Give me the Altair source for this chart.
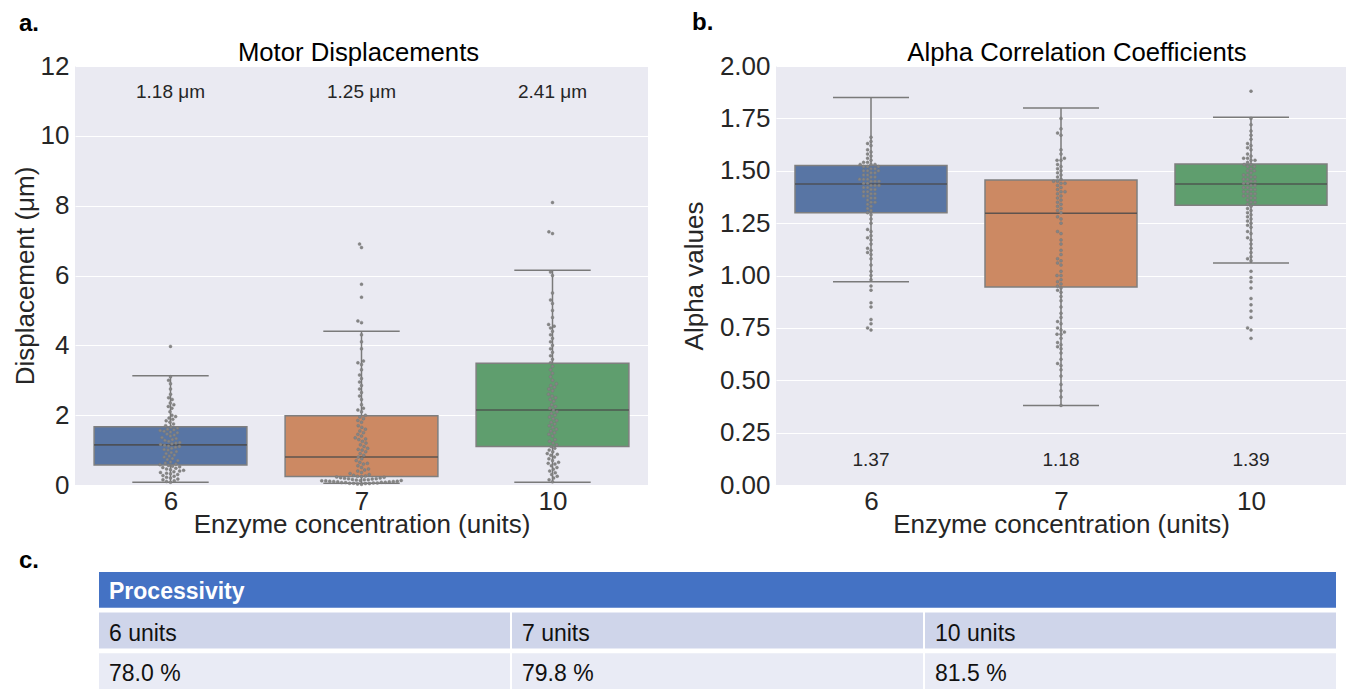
import altair as alt
import numpy as np
import pandas as pd

FONT = "Liberation Sans"
TXT = "#262626"
BG = "#EAEAF2"

# ---------------- data ----------------
groups = ["6", "7", "10"]
box_colors = ["#5875A4", "#CC8963", "#5F9E6E"]

# Panel a: motor displacements (um)
disp_low = [0.08, 0.05, 0.08]
disp_q1 = [0.57, 0.24, 1.10]
disp_med = [1.15, 0.80, 2.15]
disp_q3 = [1.67, 1.98, 3.49]
disp_high = [3.13, 4.40, 6.15]
disp_means = ["1.18 μm", "1.25 μm", "2.41 μm"]

disp_6 = [0.08, 0.1, 0.12, 0.15, 0.17, 0.2, 0.22, 0.25, 0.27, 0.3, 0.32, 0.34, 0.36, 0.38,
          0.4, 0.42, 0.44, 0.46, 0.48, 0.5, 0.52, 0.54, 0.56, 0.58, 0.6, 0.63, 0.66, 0.7,
          0.73, 0.76, 0.8, 0.83, 0.86, 0.9, 0.93, 0.96, 1.0, 1.02, 1.05, 1.08, 1.1, 1.12,
          1.14, 1.16, 1.18, 1.2, 1.22, 1.25, 1.28, 1.3, 1.33, 1.36, 1.4, 1.43, 1.46, 1.5,
          1.52, 1.54, 1.56, 1.58, 1.6, 1.63, 1.66, 1.7, 1.75, 1.8, 1.84, 1.88, 1.92, 1.96,
          2.0, 2.1, 2.2, 2.25, 2.3, 2.35, 2.45, 2.5, 2.6, 2.75, 2.9, 3.0, 3.1, 3.97]
disp_7 = [0.02, 0.03, 0.04, 0.04, 0.05, 0.05, 0.06, 0.06, 0.07, 0.07, 0.08, 0.08, 0.09,
          0.09, 0.1, 0.1, 0.11, 0.11, 0.12, 0.12, 0.13, 0.13, 0.14, 0.15, 0.15, 0.16, 0.17,
          0.18, 0.18, 0.19, 0.2, 0.21, 0.22, 0.23, 0.24, 0.25, 0.26, 0.28, 0.3, 0.33, 0.36,
          0.4, 0.43, 0.46, 0.5, 0.55, 0.6, 0.62, 0.65, 0.7, 0.75, 0.8, 0.85, 0.9, 0.95, 1.0,
          1.02, 1.05, 1.1, 1.15, 1.2, 1.25, 1.3, 1.32, 1.35, 1.4, 1.45, 1.5, 1.55, 1.6,
          1.65, 1.7, 1.8, 1.85, 1.9, 1.95, 2.0, 2.1, 2.15, 2.2, 2.3, 2.45, 2.55, 2.65, 2.75,
          2.85, 2.95, 3.05, 3.15, 3.3, 3.45, 3.5, 3.55, 3.9, 4.1, 4.3, 4.65, 4.7, 5.38, 5.75,
          6.8, 6.9]
disp_10 = [0.09, 0.15, 0.2, 0.25, 0.3, 0.35, 0.4, 0.45, 0.5, 0.55, 0.6, 0.62, 0.65, 0.7,
           0.75, 0.8, 0.85, 0.88, 0.9, 0.95, 1.0, 1.05, 1.1, 1.15, 1.2, 1.25, 1.3, 1.4, 1.45,
           1.5, 1.55, 1.6, 1.65, 1.7, 1.75, 1.8, 1.85, 1.9, 1.95, 2.0, 2.05, 2.1, 2.15, 2.2,
           2.25, 2.3, 2.4, 2.45, 2.5, 2.55, 2.6, 2.7, 2.75, 2.8, 2.85, 2.9, 3.0, 3.1, 3.2,
           3.3, 3.4, 3.5, 3.6, 3.7, 3.8, 3.9, 4.0, 4.1, 4.2, 4.3, 4.4, 4.5, 4.55, 4.6, 4.8,
           5.0, 5.2, 5.3, 5.5, 6.0, 6.1, 7.2, 7.25, 8.09]

# Panel b: alpha correlation coefficients
alpha_low = [0.97, 0.38, 1.06]
alpha_q1 = [1.30, 0.945, 1.335]
alpha_med = [1.437, 1.297, 1.437]
alpha_q3 = [1.525, 1.456, 1.532]
alpha_high = [1.85, 1.80, 1.755]
alpha_means = ["1.37", "1.18", "1.39"]

alpha_6 = [0.74, 0.75, 0.77, 0.79, 0.85, 0.87, 0.93, 0.95, 0.98, 1.00, 1.02, 1.05, 1.08,
           1.10, 1.11, 1.12, 1.13, 1.15, 1.17, 1.18, 1.19, 1.21, 1.22, 1.25, 1.27, 1.29,
           1.30, 1.31, 1.32, 1.33, 1.34, 1.35, 1.35, 1.36, 1.37, 1.37, 1.38, 1.38, 1.39,
           1.39, 1.40, 1.40, 1.41, 1.41, 1.42, 1.42, 1.43, 1.43, 1.43, 1.44, 1.44, 1.45,
           1.45, 1.45, 1.46, 1.46, 1.46, 1.47, 1.47, 1.48, 1.48, 1.49, 1.49, 1.50, 1.50,
           1.50, 1.51, 1.51, 1.52, 1.52, 1.52, 1.53, 1.53, 1.53, 1.54, 1.54, 1.55, 1.56,
           1.57, 1.58, 1.59, 1.60, 1.62, 1.63, 1.64, 1.66]
alpha_7 = [0.38, 0.42, 0.45, 0.48, 0.52, 0.55, 0.57, 0.58, 0.60, 0.63, 0.65, 0.66, 0.67,
           0.68, 0.70, 0.72, 0.72, 0.73, 0.74, 0.75, 0.77, 0.78, 0.80, 0.82, 0.85, 0.88,
           0.90, 0.92, 0.93, 0.94, 0.95, 0.96, 0.97, 0.98, 1.00, 1.00, 1.02, 1.05, 1.06,
           1.07, 1.08, 1.10, 1.12, 1.15, 1.17, 1.20, 1.21, 1.25, 1.27, 1.28, 1.30, 1.31,
           1.32, 1.33, 1.34, 1.35, 1.36, 1.37, 1.38, 1.39, 1.40, 1.40, 1.41, 1.42, 1.43,
           1.44, 1.44, 1.45, 1.45, 1.46, 1.47, 1.48, 1.49, 1.50, 1.51, 1.52, 1.53, 1.55,
           1.55, 1.56, 1.58, 1.60, 1.67, 1.68, 1.70, 1.75]
alpha_10 = [0.70, 0.74, 0.75, 0.80, 0.83, 0.86, 0.89, 0.94, 0.97, 0.99, 1.02, 1.07, 1.08,
            1.09, 1.11, 1.13, 1.15, 1.17, 1.18, 1.20, 1.21, 1.23, 1.24, 1.25, 1.26, 1.27,
            1.28, 1.29, 1.30, 1.31, 1.32, 1.33, 1.34, 1.35, 1.35, 1.36, 1.37, 1.37, 1.38,
            1.38, 1.39, 1.39, 1.40, 1.40, 1.41, 1.41, 1.42, 1.42, 1.43, 1.43, 1.44, 1.44,
            1.45, 1.45, 1.46, 1.46, 1.47, 1.47, 1.48, 1.48, 1.49, 1.50, 1.50, 1.51, 1.52,
            1.52, 1.53, 1.53, 1.54, 1.55, 1.55, 1.56, 1.56, 1.57, 1.58, 1.60, 1.61, 1.62,
            1.63, 1.65, 1.67, 1.69, 1.72, 1.75, 1.88]

# Panel c: processivity table
table_title = "Processivity"
table_heads = ["6 units", "7 units", "10 units"]
table_values = ["78.0 %", "79.8 %", "81.5 %"]

# ---------------- layout ----------------
W_A, W_B, H = 573, 570, 419
TW_FULL, T_LEFT, TH = 1262, 23, 119
DOT = 4.0  # swarm dot spacing in px


def swarm_offsets(values, px_per_unit, d):
    placed = []
    out = []
    for v in sorted(values):
        y = v * px_per_unit
        near = [(px, py) for px, py in placed if abs(py - y) < d]
        cands = [0.0]
        for px, py in near:
            dx = float(np.sqrt(d * d - (py - y) ** 2))
            cands += [px + dx, px - dx]
        cands.sort(key=lambda c: (abs(c), c))
        for c in cands:
            if all((c - px) ** 2 + (y - py) ** 2 >= d * d - 1e-6 for px, py in near):
                placed.append((c, y))
                out.append((v, c))
                break
    return out


def anchor(x, y):
    return alt.Chart(pd.DataFrame({"a": [0]})).mark_point(
        filled=True, size=1, color="white", opacity=1
    ).encode(x=alt.value(x), y=alt.value(y))


def label_text(txt, x, y, size, weight="normal", align="left", color="black"):
    return alt.Chart(pd.DataFrame({"t": [txt]})).mark_text(
        font=FONT, fontSize=size, fontWeight=weight, align=align,
        baseline="alphabetic", color=color
    ).encode(x=alt.value(x), y=alt.value(y), text="t:N")


def panel(series, low, q1, med, q3, high, ann, ann_y, ymax, yvals, yfmt, ytitle,
          title, title_x, letter, letter_xy, width, title_pad, anchors):
    ppu = H / ymax
    band = width / 3
    boxes = pd.DataFrame({
        "pos": [0, 1, 2], "low": low, "q1": q1, "med": med, "q3": q3, "high": high,
        "color": box_colors, "ann": ann,
    })
    boxes["x1"] = boxes["pos"] - 0.4
    boxes["x2"] = boxes["pos"] + 0.4
    boxes["c1"] = boxes["pos"] - 0.2
    boxes["c2"] = boxes["pos"] + 0.2
    boxes["ann_y"] = ann_y

    rows = []
    for i, vals in enumerate(series):
        for v, off in swarm_offsets(vals, ppu, DOT):
            rows.append({"xp": i + off / band, "v": v})
    pts = pd.DataFrame(rows)

    xs = alt.Scale(domain=[-0.5, 2.5], nice=False, zero=False)
    ys = alt.Scale(domain=[0, ymax], nice=False, zero=False)
    expr = " : ".join(f"datum.value == {i} ? '{g}'" for i, g in enumerate(groups[:-1]))
    expr += f" : '{groups[-1]}'"
    xax = alt.Axis(values=[0, 1, 2], labelExpr=expr, grid=False, domain=False, ticks=False,
                   labelFont=FONT, labelFontSize=26, labelColor=TXT, labelPadding=3,
                   title="Enzyme concentration (units)", titleFont=FONT, titleFontSize=26,
                   titleFontWeight="normal", titleColor=TXT, titlePadding=-3, labelFlush=False)
    yax = alt.Axis(values=yvals, format=yfmt, grid=True, gridColor="white", gridWidth=1.2,
                   domain=False, ticks=False, labelFont=FONT, labelFontSize=26,
                   labelColor=TXT, labelPadding=6, title=ytitle, titleFont=FONT,
                   titleFontSize=26, titleFontWeight="normal", titleColor=TXT,
                   titlePadding=title_pad, labelFlush=False)

    base = alt.Chart(boxes)
    whisk = base.mark_rule(color="#7a7a7a", strokeWidth=1.5).encode(
        x=alt.X("pos:Q", scale=xs, axis=xax),
        y=alt.Y("low:Q", scale=ys, axis=yax), y2="high:Q")
    cap_lo = base.mark_rule(color="#7a7a7a", strokeWidth=1.5).encode(
        x=alt.X("c1:Q", scale=xs, axis=xax), x2="c2:Q",
        y=alt.Y("low:Q", scale=ys, axis=yax))
    cap_hi = base.mark_rule(color="#7a7a7a", strokeWidth=1.5).encode(
        x=alt.X("c1:Q", scale=xs, axis=xax), x2="c2:Q",
        y=alt.Y("high:Q", scale=ys, axis=yax))
    box = base.mark_rect(stroke="#7f7f7f", strokeWidth=1.5).encode(
        x=alt.X("x1:Q", scale=xs, axis=xax), x2="x2:Q",
        y=alt.Y("q1:Q", scale=ys, axis=yax), y2="q3:Q",
        fill=alt.Fill("color:N", scale=None))
    median = base.mark_rule(color="#4a4a4a", strokeWidth=1.6, opacity=0.85).encode(
        x=alt.X("x1:Q", scale=xs, axis=xax), x2="x2:Q",
        y=alt.Y("med:Q", scale=ys, axis=yax))
    dots = alt.Chart(pts).mark_circle(size=9, color="#858585", opacity=1,
                                      stroke="#737373", strokeWidth=0.4).encode(
        x=alt.X("xp:Q", scale=xs, axis=xax),
        y=alt.Y("v:Q", scale=ys, axis=yax))
    notes = base.mark_text(font=FONT, fontSize=19, color=TXT, align="center",
                           baseline="alphabetic").encode(
        x=alt.X("pos:Q", scale=xs, axis=xax),
        y=alt.Y("ann_y:Q", scale=ys, axis=yax), text="ann:N")

    layers = [whisk, cap_lo, cap_hi, box, median, dots, notes,
              label_text(title, title_x, -5, 25.7, align="center"),
              label_text(letter, letter_xy[0], letter_xy[1], 24, weight="bold")]
    layers += [anchor(ax, ay) for ax, ay in anchors]
    return alt.layer(*layers).properties(
        width=width, height=H,
        view=alt.ViewBackground(fill=BG, stroke=None))


panel_a = panel([disp_6, disp_7, disp_10], disp_low, disp_q1, disp_med, disp_q3, disp_high,
                disp_means, 11.09, 12, list(range(0, 13, 2)), "d", "Displacement (μm)",
                "Motor Displacements", W_A / 2 - 3, "a.", (-56, -35), W_A, 2,
                [(-74, -65), (-74, 476)])
panel_b = panel([alpha_6, alpha_7, alpha_10], alpha_low, alpha_q1, alpha_med, alpha_q3,
                alpha_high, alpha_means, 0.091, 2.0, [i * 0.25 for i in range(9)], ".2f",
                "Alpha values", "Alpha Correlation Coefficients", 301, "b.", (-84, -36),
                W_B, 12, [(-102, -65)])

# ---------------- table ----------------
cells = [{"row": "h", "c0": 0, "c1": 3, "fill": "#4472C4", "t": table_title}]
for i, (hd, vv) in enumerate(zip(table_heads, table_values)):
    cells.append({"row": "r1", "c0": i, "c1": i + 1, "fill": "#CFD5EA", "t": hd})
    cells.append({"row": "r2", "c0": i, "c1": i + 1, "fill": "#E9EBF5", "t": vv})
cells = pd.DataFrame(cells)
tx = alt.Scale(domain=[0, 3], range=[T_LEFT, TW_FULL], nice=False, zero=False)
ty = alt.Scale(domain=["h", "r1", "r2"], paddingInner=0.07, paddingOuter=0)
tbase = alt.Chart(cells)
t_rect = tbase.mark_rect(stroke="white", strokeWidth=2).encode(
    x=alt.X("c0:Q", scale=tx, axis=None), x2="c1:Q",
    y=alt.Y("row:N", scale=ty, axis=None),
    fill=alt.Fill("fill:N", scale=None))
t_head = alt.Chart(cells[cells["row"] == "h"]).mark_text(
    font=FONT, fontSize=23, fontWeight="bold", align="left", baseline="middle",
    dx=11, dy=2, color="white").encode(
    x=alt.X("c0:Q", scale=tx, axis=None), y=alt.Y("row:N", scale=ty, axis=None),
    text="t:N")
t_body = alt.Chart(cells[cells["row"] != "h"]).mark_text(
    font=FONT, fontSize=23, align="left", baseline="middle", dx=11, dy=3,
    color="#111111").encode(
    x=alt.X("c0:Q", scale=tx, axis=None), y=alt.Y("row:N", scale=ty, axis=None),
    text="t:N")
table = alt.layer(t_rect, t_head, t_body, label_text("c.", -56, -3, 24, weight="bold"),
                  anchor(0, -27)).properties(width=TW_FULL, height=TH)

chart = alt.vconcat(
    alt.hconcat(panel_a, panel_b, spacing=25),
    table, spacing=0,
).properties(
    padding={"left": 0, "top": 0, "right": 0, "bottom": 0},
    background="white",
).configure_view(stroke=None)

chart.save("out.html", embed_options={"renderer": "svg", "actions": False})
